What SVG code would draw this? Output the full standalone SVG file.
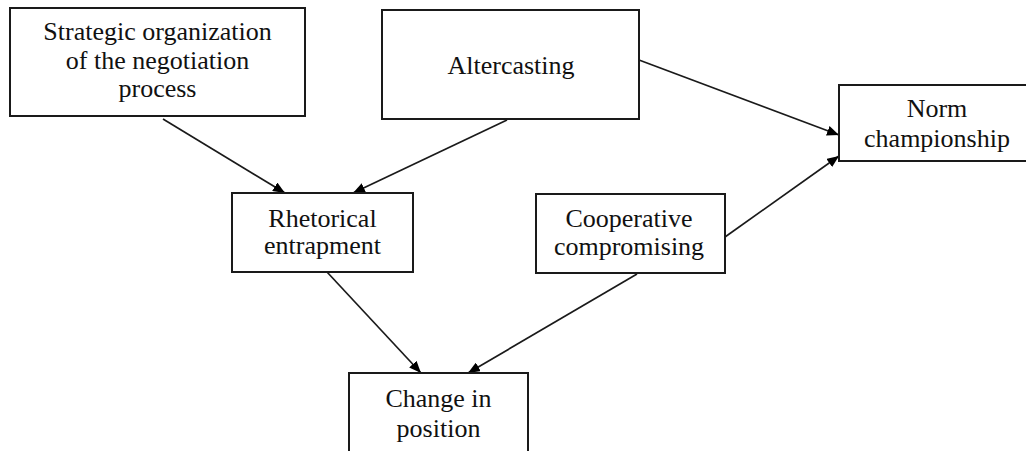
<svg xmlns="http://www.w3.org/2000/svg" width="1026" height="451" viewBox="0 0 1026 451">
<style>
.box{fill:#fff;stroke:#1a1a1a;stroke-width:2}
.t{font-family:"Liberation Serif","Times New Roman",serif;font-size:26px;fill:#111;text-anchor:middle}
.c{stroke:#1a1a1a;stroke-width:1.7;fill:none;marker-end:url(#ah)}
</style>
<defs>
<marker id="ah" viewBox="0 0 12 10" refX="12" refY="5" markerWidth="12" markerHeight="10" markerUnits="userSpaceOnUse" orient="auto">
<path d="M0,0 L12,5 L0,10 z" fill="#000"/>
</marker>
</defs>
<rect width="1026" height="451" fill="#fff"/>
<g id="connectors">
<line class="c" x1="163" y1="119" x2="285" y2="193"/>
<line class="c" x1="507" y1="120" x2="353" y2="193"/>
<line class="c" x1="639" y1="60" x2="839" y2="135"/>
<line class="c" x1="725" y1="237" x2="839" y2="156"/>
<line class="c" x1="327" y1="272" x2="421" y2="373"/>
<line class="c" x1="637" y1="274" x2="468" y2="373"/>
</g>
<g id="strategic">
<rect class="box" x="10" y="8" width="295" height="108"/>
<text class="t" x="157.5" y="40">Strategic organization</text>
<text class="t" x="157.5" y="69">of the negotiation</text>
<text class="t" x="157.5" y="97">process</text>
</g>
<g id="altercasting">
<rect class="box" x="382" y="10" width="257" height="109"/>
<text class="t" x="511" y="74">Altercasting</text>
</g>
<g id="norm">
<rect class="box" x="839" y="85" width="196" height="76"/>
<text class="t" x="937" y="117">Norm</text>
<text class="t" x="937" y="147">championship</text>
</g>
<g id="rhetorical">
<rect class="box" x="232" y="193" width="181" height="79"/>
<text class="t" x="322.5" y="227">Rhetorical</text>
<text class="t" x="322.5" y="254">entrapment</text>
</g>
<g id="cooperative">
<rect class="box" x="536" y="194" width="189" height="79"/>
<text class="t" x="629" y="227">Cooperative</text>
<text class="t" x="629" y="255">compromising</text>
</g>
<g id="change">
<rect class="box" x="349" y="373" width="179" height="100"/>
<text class="t" x="438.5" y="407">Change in</text>
<text class="t" x="438.5" y="437">position</text>
</g>
</svg>
